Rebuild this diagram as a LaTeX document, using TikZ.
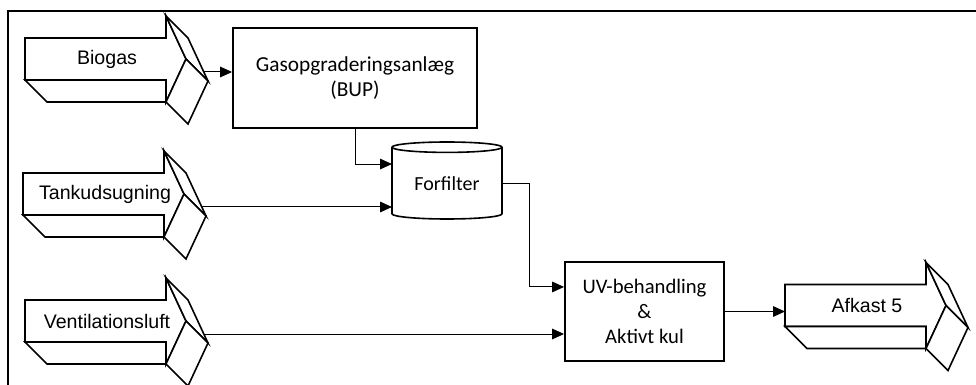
\documentclass[tikz,border=0pt]{standalone}
\usepackage{fontspec}
\setmainfont{Liberation Sans}
\newfontfamily\boxfont{Carlito}
\usepackage{tikz}
\usetikzlibrary{arrows.meta,shapes.geometric}
\tikzset{
    flow-arrow/.style = {draw, fill=white, line width=1.2pt, line join=miter},
    flow-label/.style = {font=\fontsize{14.7}{17}\selectfont, inner sep=0pt},
    process-box/.style = {draw, fill=white, line width=1.4pt, rectangle, align=center, inner sep=0pt, font=\boxfont\fontsize{16}{18.75}\selectfont},
    storage/.style = {draw, fill=white, line width=1.2pt, cylinder, shape border rotate=90, aspect=0.16, inner sep=0pt, font=\boxfont\fontsize{15}{18}\selectfont},
    link/.style = {line width=0.75pt, -{Triangle[length=9pt,width=8pt]}},
}
% 3D block arrow: name, left-middle point of the body, label
\newcommand{\blockarrow}[3]{%
    \begin{scope}[shift={#2}]
        \draw[flow-arrow] (0,-21) -- (141,-21) -- (141,-43) -- (161,0) -- (141,43) -- (141,21) -- (0,21) -- cycle;
        \draw[flow-arrow] (0,21) -- (22,43) -- (141,43) -- (141,21) -- cycle;
        \draw[flow-arrow] (141,-43) -- (163,-21) -- (183,22) -- (161,0) -- cycle;
        \draw[flow-arrow] (161,0) -- (183,22) -- (163,65) -- (141,43) -- cycle;
        \node[flow-label] (#1) at (82,0) {#3};
        \coordinate (#1-in) at (0,0);
        \coordinate (#1-out) at (179,13);
    \end{scope}}

\begin{document}
\begin{tikzpicture}[x=0.75pt,y=-0.75pt]
\useasboundingbox (0,0) rectangle (976,385);
\draw[line width=1.5pt] (8,400) -- (8,11) -- (990,11);

\blockarrow{biogas}{(25,59)}{Biogas}
\blockarrow{tankudsugning}{(23,194)}{Tankudsugning}
\blockarrow{ventilation}{(25,321)}{Ventilationsluft}
\blockarrow{afkast}{(785,305.5)}{Afkast 5}

\node[process-box, minimum width=183pt, minimum height=75pt] (bup) at (355,78) {Gasopgraderingsanlæg\\(BUP)};
\node[storage, minimum width=82.5pt, minimum height=57.75pt] (forfilter) at (447,183.5) {Forfilter};
\node[process-box, minimum width=119.25pt, minimum height=74.25pt, font=\boxfont\fontsize{15.5}{18.75}\selectfont] (uv) at (644.5,311.5) {UV-behandling\\\&\\Aktivt kul};

\coordinate (ff-in) at ([xshift=-41.25pt]forfilter.center);
\coordinate (ff-out) at ([xshift=41.25pt]forfilter.center);

\draw[link] (biogas-out) -- (biogas-out -| bup.west);
\draw[link] (bup.south) |- ([yshift=14.6pt]ff-in);
\draw[link] (tankudsugning-out) -- (tankudsugning-out -| ff-in);
\draw[link] (ff-out) -- ++(27,0) |- ([yshift=18.4pt]uv.west);
\draw[link] (ventilation-out) -- (ventilation-out -| uv.west);
\draw[link] (uv.east) -- (uv.east -| afkast-in);
\end{tikzpicture}
\end{document}
